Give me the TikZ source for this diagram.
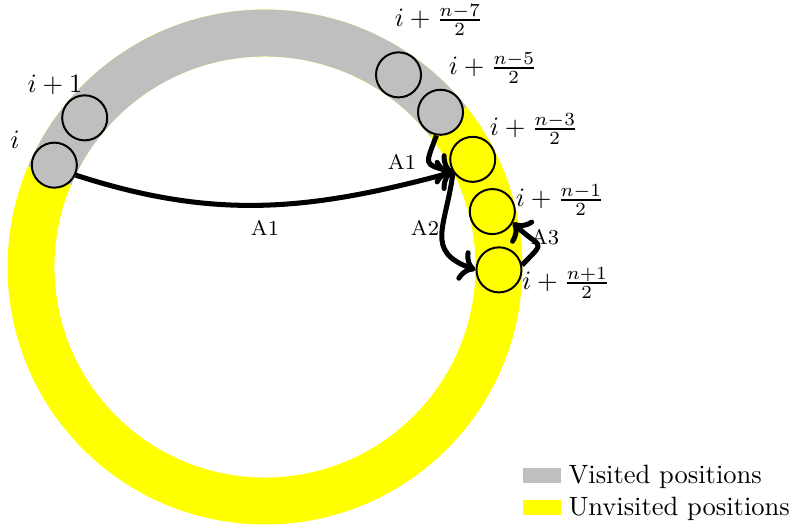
\documentclass[tikz,border=0pt]{standalone}
\usetikzlibrary{arrows.meta}
\definecolor{unvcol}{RGB}{255,255,0}
\definecolor{viscol}{RGB}{191,191,191}
\begin{document}
\begin{tikzpicture}[x=0.3774pt,y=0.3774pt,
  slot/.style={circle,draw,line width=0.75pt,minimum size=17pt,inner sep=0pt},
  vis/.style={slot,fill=viscol},
  unv/.style={slot,fill=unvcol},
  mv/.style={line width=1.9pt,->},
  albl/.style={font=\footnotesize,inner sep=1pt},
  plbl/.style={inner sep=0pt},
  ring/.style={line width=17.7pt}]
\useasboundingbox (-265,-262) rectangle (533,267);
% ring
\draw[ring,unvcol] (0,0) circle[radius=234];
\draw[ring,viscol] (38.5:234) arc[start angle=38.5,end angle=157,radius=234];
% positions
\node[vis] (p0) at (154.2:234) {};
\node[vis] (p1) at (140.4:234) {};
\node[vis] (q7) at (55.2:234) {};
\node[vis] (q5) at (41.4:234) {};
\node[unv] (q3) at (27.4:234) {};
\node[unv] (q1) at (13.7:234) {};
\node[unv] (r1) at (-0.7:234) {};
% position labels
\node[plbl] (l0) at (-250,127) {$i$};
\node[plbl] (l1) at (-210,182) {$i+1$};
\node[plbl] (l7) at (174,247) {$i+\frac{n-7}{2}$};
\node[plbl] (l5) at (228,199) {$i+\frac{n-5}{2}$};
\node[plbl] (l3) at (269,138) {$i+\frac{n-3}{2}$};
\node[plbl] (lm1) at (295,67) {$i+\frac{n-1}{2}$};
\node[plbl] (lp1) at (301,-16) {$i+\frac{n+1}{2}$};
% moves
\draw[mv] (p0.-25) to[out=-18,in=195] (q3.213);
\draw[mv] (q5.-100) to[out=-110,in=165,looseness=2] (q3.213);
\draw[mv] (q3.213) to[out=-97,in=160,looseness=1.4] (r1.west);
\draw[mv] (r1.12) to[out=45,in=-45,looseness=2.2] (q1.-28);
\node[albl] (a1) at (0,39) {A1};
\node[albl] (a1b) at (137,105) {A1};
\node[albl] (a2) at (160,39) {A2};
\node[albl] (a3) at (280,30) {A3};
% legend
\fill[viscol] (258,-201) rectangle (296,-216);
\fill[unvcol] (258,-233) rectangle (296,-248);
\node[anchor=base west,inner sep=0pt] (lv) at (303,-216) {Visited positions};
\node[anchor=base west,inner sep=0pt] (lu) at (303,-248) {Unvisited positions};
\end{tikzpicture}
\end{document}
